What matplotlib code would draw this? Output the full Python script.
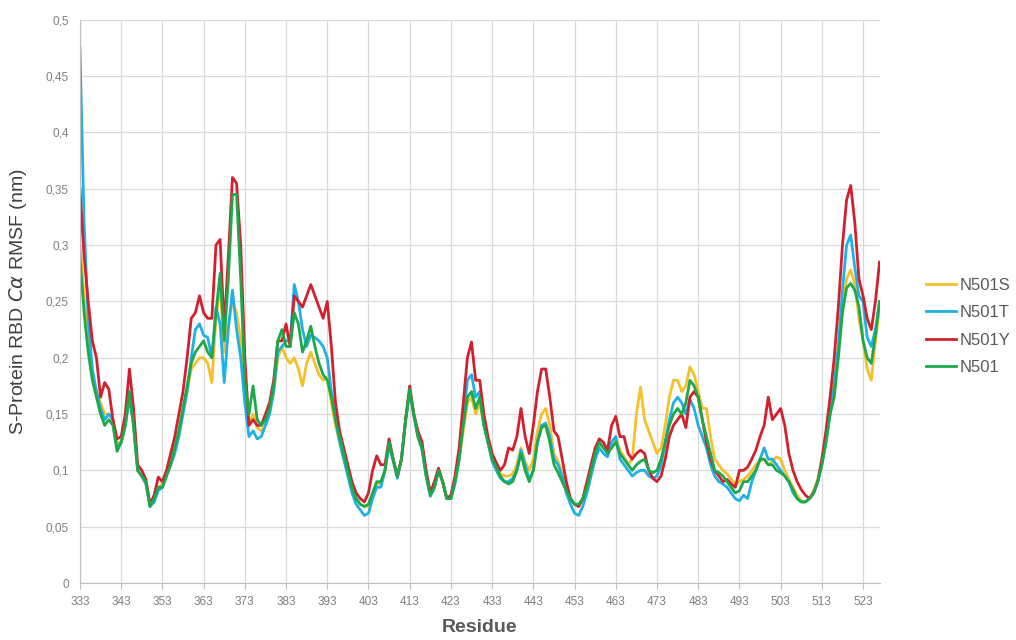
import matplotlib
matplotlib.use("Agg")
import matplotlib.pyplot as plt
from matplotlib import ticker as mtick

plt.rcParams['font.family'] = ['Liberation Sans', 'DejaVu Sans']

residues = list(range(333, 528))

# N501 (green)
n501 = [0.29, 0.24, 0.205, 0.18, 0.165, 0.15, 0.14, 0.145, 0.14, 0.117,
        0.125, 0.14, 0.17, 0.14, 0.1, 0.095, 0.09, 0.068, 0.075, 0.085,
        0.085, 0.095, 0.105, 0.12, 0.135, 0.155, 0.175, 0.195, 0.205, 0.21,
        0.215, 0.205, 0.2, 0.24, 0.275, 0.215, 0.27, 0.345, 0.345, 0.27,
        0.18, 0.15, 0.175, 0.145, 0.14, 0.145, 0.155, 0.175, 0.215, 0.225,
        0.21, 0.21, 0.24, 0.23, 0.205, 0.215, 0.228, 0.21, 0.195, 0.185,
        0.18, 0.165, 0.145, 0.13, 0.115, 0.1, 0.085, 0.075, 0.07, 0.068,
        0.07, 0.08, 0.09, 0.09, 0.1, 0.125, 0.11, 0.095, 0.11, 0.145,
        0.172, 0.15, 0.13, 0.12, 0.095, 0.078, 0.085, 0.1, 0.09, 0.075,
        0.075, 0.09, 0.11, 0.14, 0.165, 0.17, 0.155, 0.165, 0.14, 0.125,
        0.11, 0.103, 0.095, 0.09, 0.088, 0.09, 0.1, 0.115, 0.1, 0.09,
        0.1, 0.125, 0.138, 0.14, 0.125, 0.105, 0.098, 0.09, 0.082, 0.075,
        0.07, 0.07, 0.075, 0.085, 0.1, 0.115, 0.125, 0.12, 0.115, 0.12,
        0.125, 0.115, 0.11, 0.105, 0.1, 0.105, 0.108, 0.11, 0.1, 0.098,
        0.1, 0.11, 0.125, 0.14, 0.15, 0.155, 0.15, 0.16, 0.18, 0.175,
        0.165, 0.145, 0.13, 0.115, 0.1, 0.098, 0.095, 0.09, 0.085, 0.08,
        0.082, 0.09, 0.09, 0.095, 0.1, 0.11, 0.11, 0.105, 0.105, 0.1,
        0.098, 0.095, 0.09, 0.083, 0.075, 0.072, 0.072, 0.075, 0.08, 0.09,
        0.105, 0.125, 0.15, 0.165, 0.2, 0.24, 0.262, 0.266, 0.26, 0.245,
        0.215, 0.2, 0.195, 0.22, 0.25]

# N501Y (red)
n501y = [0.35, 0.29, 0.25, 0.215, 0.2, 0.165, 0.178, 0.172, 0.145, 0.128,
         0.13, 0.15, 0.19, 0.155, 0.105, 0.1, 0.092, 0.07, 0.078, 0.094,
         0.09, 0.1, 0.115, 0.13, 0.15, 0.17, 0.2, 0.235, 0.24, 0.255,
         0.24, 0.235, 0.235, 0.3, 0.305, 0.225, 0.29, 0.36, 0.355, 0.3,
         0.2, 0.14, 0.145, 0.14, 0.14, 0.15, 0.16, 0.18, 0.215, 0.215,
         0.23, 0.21, 0.255, 0.25, 0.245, 0.255, 0.265, 0.255, 0.245, 0.235,
         0.25, 0.21, 0.16, 0.135, 0.12, 0.105, 0.09, 0.08, 0.075, 0.072,
         0.08, 0.1, 0.113, 0.105, 0.105, 0.128, 0.11, 0.095, 0.11, 0.145,
         0.175, 0.15, 0.135, 0.125, 0.1, 0.08, 0.09, 0.102, 0.09, 0.075,
         0.078, 0.095, 0.12, 0.16, 0.2, 0.214, 0.18, 0.18, 0.15, 0.13,
         0.115, 0.107, 0.1, 0.105, 0.12, 0.118, 0.13, 0.155, 0.13, 0.115,
         0.14, 0.17, 0.19, 0.19, 0.165, 0.135, 0.13, 0.11, 0.09, 0.075,
         0.07, 0.068, 0.075, 0.09, 0.105, 0.12, 0.128, 0.125, 0.118, 0.14,
         0.148, 0.13, 0.13, 0.115, 0.11, 0.115, 0.118, 0.115, 0.1, 0.093,
         0.09, 0.095, 0.11, 0.13, 0.14, 0.145, 0.15, 0.138, 0.165, 0.17,
         0.165, 0.145, 0.125, 0.11, 0.1, 0.095, 0.09, 0.092, 0.088, 0.085,
         0.1, 0.1, 0.103, 0.11, 0.118, 0.13, 0.14, 0.165, 0.145, 0.15,
         0.155, 0.14, 0.115, 0.1, 0.09, 0.083, 0.078, 0.075, 0.08, 0.09,
         0.11, 0.135, 0.165, 0.2, 0.245, 0.3, 0.34, 0.353, 0.32, 0.27,
         0.255, 0.235, 0.225, 0.25, 0.285]

# N501T (blue)
n501t = [0.475, 0.32, 0.235, 0.19, 0.17, 0.155, 0.145, 0.15, 0.145, 0.12,
         0.125, 0.14, 0.165, 0.14, 0.1, 0.095, 0.088, 0.068, 0.072, 0.082,
         0.085, 0.095, 0.105, 0.115, 0.13, 0.15, 0.17, 0.2, 0.225, 0.23,
         0.22, 0.218, 0.2, 0.245, 0.23, 0.178, 0.225, 0.26, 0.225, 0.2,
         0.16, 0.13, 0.135, 0.128, 0.13, 0.14, 0.15, 0.17, 0.205, 0.21,
         0.215, 0.215, 0.265, 0.25, 0.225, 0.21, 0.22, 0.218, 0.215, 0.21,
         0.2, 0.17, 0.145, 0.125, 0.11, 0.095, 0.08, 0.07, 0.065, 0.06,
         0.062, 0.075, 0.085, 0.085, 0.1, 0.122, 0.108, 0.093, 0.11, 0.143,
         0.17, 0.148, 0.13, 0.118, 0.095, 0.077, 0.085, 0.1, 0.09, 0.075,
         0.075, 0.088, 0.11, 0.145, 0.18, 0.185, 0.165, 0.17, 0.14, 0.125,
         0.108, 0.1, 0.093, 0.09, 0.09, 0.093, 0.1, 0.118, 0.105, 0.092,
         0.1, 0.125, 0.14, 0.142, 0.13, 0.11, 0.105, 0.095, 0.08, 0.07,
         0.062, 0.06, 0.068, 0.08, 0.095, 0.11, 0.12, 0.115, 0.112, 0.125,
         0.13, 0.11, 0.105, 0.1, 0.095, 0.098, 0.1, 0.1, 0.095, 0.093,
         0.095, 0.105, 0.125, 0.145, 0.16, 0.165, 0.16, 0.15, 0.163, 0.155,
         0.14, 0.13, 0.12, 0.105, 0.095, 0.09, 0.088, 0.085, 0.08, 0.075,
         0.073, 0.078, 0.075, 0.09, 0.1, 0.11, 0.12, 0.11, 0.11, 0.105,
         0.1, 0.095, 0.09, 0.08, 0.075, 0.072, 0.072, 0.075, 0.08, 0.09,
         0.105, 0.125, 0.15, 0.175, 0.21, 0.26, 0.3, 0.309, 0.28, 0.255,
         0.25, 0.218, 0.21, 0.225, 0.25]

# N501S (yellow)
n501s = [0.3, 0.255, 0.215, 0.185, 0.17, 0.16, 0.15, 0.15, 0.145, 0.125,
         0.125, 0.14, 0.165, 0.14, 0.1, 0.095, 0.088, 0.068, 0.075, 0.085,
         0.088, 0.097, 0.108, 0.12, 0.135, 0.155, 0.17, 0.19, 0.195, 0.2,
         0.2, 0.195, 0.178, 0.235, 0.265, 0.205, 0.23, 0.25, 0.24, 0.215,
         0.165, 0.14, 0.15, 0.138, 0.135, 0.14, 0.15, 0.17, 0.2, 0.21,
         0.2, 0.195, 0.2, 0.19, 0.175, 0.195, 0.205, 0.195, 0.185, 0.18,
         0.183, 0.16, 0.14, 0.125, 0.11, 0.097, 0.085, 0.075, 0.07, 0.068,
         0.068, 0.078, 0.088, 0.088, 0.1, 0.125, 0.11, 0.095, 0.11, 0.145,
         0.17, 0.15, 0.13, 0.12, 0.095, 0.078, 0.085, 0.1, 0.09, 0.075,
         0.075, 0.09, 0.11, 0.135, 0.16, 0.165, 0.15, 0.16, 0.14, 0.125,
         0.11, 0.105, 0.097, 0.095, 0.095, 0.097, 0.105, 0.12, 0.108, 0.1,
         0.11, 0.135, 0.15, 0.155, 0.14, 0.115, 0.108, 0.098, 0.085, 0.075,
         0.07, 0.068, 0.075, 0.085, 0.1, 0.115, 0.125, 0.12, 0.118, 0.125,
         0.13, 0.118, 0.112, 0.105, 0.11, 0.15, 0.174, 0.145, 0.135, 0.125,
         0.115, 0.12, 0.14, 0.165, 0.18, 0.18, 0.17, 0.175, 0.192, 0.185,
         0.17, 0.155, 0.155, 0.13, 0.11, 0.105, 0.1, 0.097, 0.092, 0.088,
         0.09, 0.092, 0.095, 0.1, 0.105, 0.108, 0.11, 0.105, 0.108, 0.112,
         0.11, 0.1, 0.092, 0.085, 0.078, 0.073, 0.072, 0.075, 0.082, 0.092,
         0.108, 0.13, 0.155, 0.18, 0.21, 0.245, 0.27, 0.278, 0.265, 0.235,
         0.215, 0.19, 0.18, 0.215, 0.245]

series = [("N501S", n501s, "#F5C02A"),
          ("N501T", n501t, "#1FB0E6"),
          ("N501Y", n501y, "#D2202F"),
          ("N501", n501, "#1EA84A")]

fig = plt.figure(figsize=(10.16, 6.4), dpi=100)
ax = fig.add_axes([0.0787, 0.089, 0.787, 0.880])

for name, vals, col in series:
    ax.plot(residues, vals, color=col, lw=2.0, label=name, solid_joinstyle="round")

ax.set_xlim(333, 527)
ax.set_ylim(0, 0.5)
ax.set_xticks(list(range(333, 524, 10)))
ax.yaxis.set_major_locator(mtick.MultipleLocator(0.05))
ax.yaxis.set_major_formatter(mtick.FuncFormatter(lambda v, p: f"{v:.2f}".rstrip("0").rstrip(",.").replace(".", ",") if v else "0"))
ax.grid(True, color="#d9d9d9", lw=0.9)
ax.set_axisbelow(True)

for s in ["top", "right"]:
    ax.spines[s].set_visible(False)
for s in ["left", "bottom"]:
    ax.spines[s].set_color("#bfbfbf")
ax.tick_params(axis="both", colors="#bfbfbf", labelcolor="#7f7f7f", labelsize=8.5)
ax.tick_params(axis="y", length=0, pad=8)
ax.tick_params(axis="x", length=4, pad=5)

ax.set_ylabel(r"S-Protein RBD $C\alpha$ RMSF (nm)", fontsize=14, color="#404040", labelpad=12)
ax.set_xlabel("Residue", fontsize=14, fontweight="bold", color="#595959", labelpad=8)

fig.legend(loc="center left", bbox_to_anchor=(0.897, 0.49), frameon=False,
           fontsize=12, handlelength=1.8, handletextpad=0.2, labelspacing=0.75,
           labelcolor="#595959")

fig.savefig("out.png", dpi=100)
